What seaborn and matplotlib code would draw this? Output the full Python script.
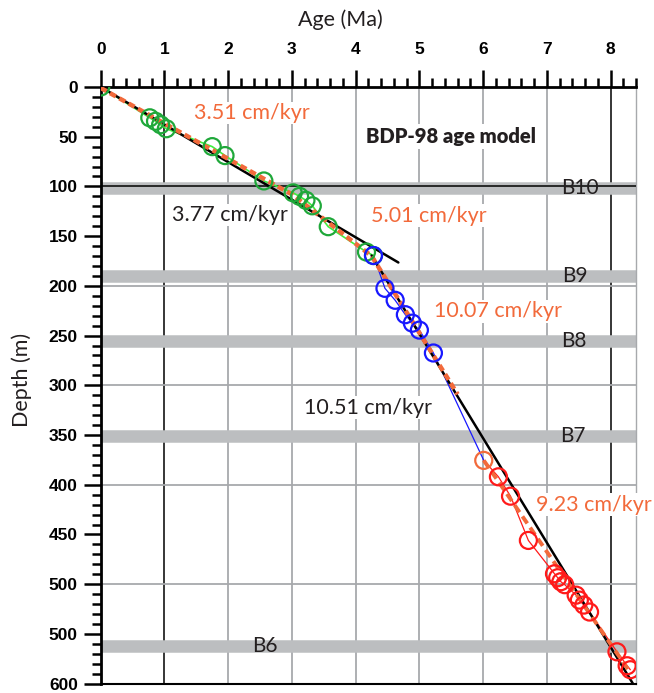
import numpy as np
import pandas as pd
import matplotlib
matplotlib.use("Agg")
import matplotlib.pyplot as plt
import seaborn as sns
from matplotlib.ticker import FixedLocator, FixedFormatter, MultipleLocator

# ---------------- data ----------------
green_age = [0.0, 0.77, 0.86, 0.94, 1.03, 1.75, 1.95, 2.56, 3.02, 3.12, 3.22, 3.32, 3.57, 4.17, 4.28]
green_depth = [0.0, 31.0, 34.5, 38.0, 42.0, 60.0, 69.0, 94.5, 106.5, 110.0, 114.0, 119.5, 140.5, 166.0, 169.5]

blue_age = [4.28, 4.46, 4.62, 4.78, 4.89, 5.00, 5.22]
blue_depth = [169.5, 202.5, 214.5, 229.0, 237.5, 244.5, 267.5]

tie_age = [6.01]
tie_depth = [375.5]

red_age = [6.24, 6.43, 6.71, 7.12, 7.17, 7.22, 7.28, 7.46, 7.51, 7.58, 7.67, 8.10, 8.26, 8.31]
red_depth = [392.0, 411.5, 456.0, 489.5, 493.5, 497.5, 500.5, 511.0, 516.0, 521.0, 528.0, 568.0, 582.0, 586.0]

# regression lines (black): 3.77 and 10.51 cm/kyr
fit1_age = [0.0, 4.67]
fit1_depth = [0.0, 176.5]
fit2_age = [4.25, 8.36]
fit2_depth = [169.5, 601.0]

# piecewise orange age model: 3.51, 5.01, 10.07, 9.23 cm/kyr
pw1_age = [0.0, 3.0, 4.25, 5.6]
pw1_depth = [1.0, 108.0, 170.0, 309.0]
pw2_age = [6.01, 8.30]
pw2_depth = [375.5, 588.0]

# tephra / marker bands
band_names = ["B10", "B9", "B8", "B7", "B6"]
band_depth = [102.0, 190.0, 255.0, 351.0, 562.0]
band_label_age = [7.52, 7.44, 7.43, 7.41, 2.58]

rate_texts = ["3.51 cm/kyr", "3.77 cm/kyr", "5.01 cm/kyr", "10.07 cm/kyr", "10.51 cm/kyr", "9.23 cm/kyr"]
rate_age = [2.375, 2.03, 5.15, 6.24, 4.20, 7.74]
rate_depth = [26.0, 128.7, 129.4, 225.5, 322.4, 420.0]
rate_is_orange = [True, False, True, True, False, True]

x_ticks = [0, 1, 2, 3, 4, 5, 6, 7, 8]
y_ticks = [0, 50, 100, 150, 200, 250, 300, 350, 400, 450, 500, 550, 600]
y_tick_labels = ["0", "50", "100", "150", "200", "250", "300", "350", "400", "450", "500", "500", "600"]

# ---------------- style ----------------
sns.set_theme(style="white")
plt.rcParams["font.family"] = ["Lato", "DejaVu Sans"]

ORANGE = "#f26a3b"
GREEN_C = "#1fa83a"
GREEN_L = "#3ef03e"
BLUE = "#1818ff"
RED = "#ff1a1a"
GRAY = "#a7a9ac"
BAND = "#bcbec0"

fig = plt.figure(figsize=(6.54, 6.93), dpi=100)
ax = fig.add_axes([0.154, 0.0135, 0.8186, 0.861])
ax.set_xlim(0, 8.4)
ax.set_ylim(600, 0)

# grid lines
for a in range(1, 9):
    c = "black" if a in (1, 8) else GRAY
    ax.axvline(a, color=c, lw=1.1 if c == "black" else 1.3, zorder=1)
for d in [200, 300, 400, 500]:
    ax.axhline(d, color=GRAY, lw=1.3, zorder=1)

# bands
for d in band_depth:
    ax.axhline(d, color=BAND, lw=9, zorder=2, solid_capstyle="butt")
ax.axhline(100, color="black", lw=1.1, zorder=3)

# lines
sns.lineplot(x=green_age, y=green_depth, ax=ax, sort=False, estimator=None,
             color=GREEN_L, lw=1.2, zorder=4)
sns.lineplot(x=blue_age + tie_age, y=blue_depth + tie_depth, ax=ax, sort=False,
             estimator=None, color=BLUE, lw=0.9, zorder=4)
sns.lineplot(x=tie_age + red_age, y=tie_depth + red_depth, ax=ax, sort=False,
             estimator=None, color=RED, lw=0.9, zorder=4)
sns.lineplot(x=fit1_age, y=fit1_depth, ax=ax, sort=False, estimator=None,
             color="black", lw=1.8, zorder=4.5)
sns.lineplot(x=fit2_age, y=fit2_depth, ax=ax, sort=False, estimator=None,
             color="black", lw=1.8, zorder=4.5)
sns.lineplot(x=pw1_age, y=pw1_depth, ax=ax, sort=False, estimator=None,
             color=ORANGE, lw=3.2, linestyle=(0, (1.5, 0.9)), zorder=4.6)
sns.lineplot(x=pw2_age, y=pw2_depth, ax=ax, sort=False, estimator=None,
             color=ORANGE, lw=2.8, linestyle=(0, (2.2, 1.3)), zorder=4.6)

# points
def circles(xs, ys, col):
    sns.scatterplot(x=xs, y=ys, ax=ax, s=150, marker="o", color=col,
                    facecolor="none", edgecolor=col, linewidth=1.6, zorder=5)

circles(green_age, green_depth, GREEN_C)
circles(blue_age, blue_depth, BLUE)
circles(tie_age, tie_depth, ORANGE)
circles(red_age, red_depth, RED)

# texts
for t, a, d, o in zip(rate_texts, rate_age, rate_depth, rate_is_orange):
    ax.text(a, d, t, color=ORANGE if o else "#231f20", fontsize=15.5,
            ha="center", va="center", zorder=3.5,
            bbox=dict(facecolor="white", edgecolor="none", pad=1.0))
for n, a, d in zip(band_names, band_label_age, band_depth):
    ax.text(a, d, n, color="#231f20", fontsize=15, ha="center", va="center", zorder=3.6)
ax.text(5.5, 50, "BDP-98 age model", fontsize=14.5, fontweight="heavy",
        color="#231f20", ha="center", va="center",
        zorder=3.5, bbox=dict(facecolor="white", edgecolor="none", pad=2))

# axes styling
ax.xaxis.tick_top()
ax.xaxis.set_major_locator(FixedLocator(x_ticks))
ax.xaxis.set_minor_locator(MultipleLocator(0.2))
ax.yaxis.set_major_locator(FixedLocator(y_ticks))
ax.yaxis.set_major_formatter(FixedFormatter(y_tick_labels))
ax.yaxis.set_minor_locator(MultipleLocator(10))
ax.tick_params(axis="x", which="both", top=True, bottom=False, labeltop=True,
               labelbottom=False, direction="out", color="black")
ax.tick_params(axis="y", which="both", left=True, right=False, direction="out", color="black")
ax.tick_params(which="major", length=12.5, width=1.8)
ax.tick_params(which="minor", length=6.5, width=1.8)
ax.tick_params(axis="x", which="major", pad=9)
ax.tick_params(axis="y", which="major", pad=4)
for lab in ax.get_xticklabels() + ax.get_yticklabels():
    lab.set_fontfamily(["Liberation Sans", "DejaVu Sans"])
    lab.set_fontweight("bold")
    lab.set_fontsize(12.5)
    lab.set_color("black")

for s in ["top", "left"]:
    ax.spines[s].set_color("black")
    ax.spines[s].set_linewidth(2.0)
ax.spines["bottom"].set_color("black")
ax.spines["bottom"].set_linewidth(1.5)
ax.spines["right"].set_color(GRAY)
ax.spines["right"].set_linewidth(1.0)
ax.set_xlabel("")
ax.set_ylabel("")

fig.text(340 / 654, 1 - 20 / 693, "Age (Ma)", fontsize=15.5, ha="center", va="center", color="#231f20")
fig.text(22 / 654, 1 - 380 / 693, "Depth (m)", fontsize=15.5, rotation=90,
         ha="center", va="center", color="#231f20")

fig.savefig("out.png", dpi=100, facecolor="white")
